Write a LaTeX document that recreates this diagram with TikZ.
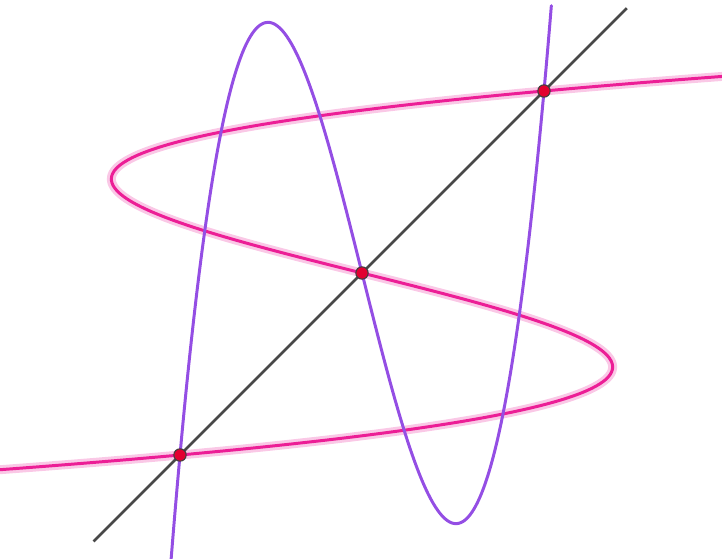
\documentclass[tikz,border=0pt]{standalone}
\usepackage{tikz}
\usetikzlibrary{calc}
\definecolor{cubicPurple}{RGB}{148,78,228}
\definecolor{inverseMagenta}{RGB}{236,30,150}
\definecolor{glowPink}{RGB}{250,200,230}
\definecolor{lineGrey}{RGB}{72,72,72}
\definecolor{pointRed}{RGB}{226,0,48}
\tikzstyle{cubic} = [cubicPurple, line width=1.4pt, line cap=round]
\tikzstyle{inverse} = [inverseMagenta, line width=1.4pt]
\tikzstyle{glow} = [glowPink, line width=4.2pt]
\tikzstyle{diag} = [lineGrey, line width=1.25pt]
\tikzstyle{pt} = [fill=pointRed, draw=black!75, line width=0.5pt]

\begin{document}
\begin{tikzpicture}[x=3cm, y=3cm]
    \useasboundingbox (-1.989,-1.566) rectangle (1.978,1.5);
    \clip (-1.989,-1.566) rectangle (1.978,1.5);

    % the inverse, with its glow
    \draw [glow] plot [smooth, samples=200, domain=-1.09:1.09] ({5*(\x)*(\x)*(\x)-4*(\x)}, \x);
    \draw [inverse] plot [smooth, samples=200, domain=-1.09:1.09] ({5*(\x)*(\x)*(\x)-4*(\x)}, \x);

    % the line y = x
    \coordinate (lineStart) at (-1.475,-1.475);
    \coordinate (lineEnd) at (1.455,1.455);
    \draw [diag] (lineStart) -- (lineEnd);

    % the cubic
    \draw [cubic] plot [smooth, samples=200, domain=-1.07:1.041] (\x, {5*(\x)*(\x)*(\x)-4*(\x)});

    % points where they meet
    \foreach \t/\n in {-1/p1, 0/p2, 1/p3}{
        \coordinate (\n) at (\t,\t);
        \filldraw [pt] (\n) circle (2.9pt);
    }
\end{tikzpicture}
\end{document}
